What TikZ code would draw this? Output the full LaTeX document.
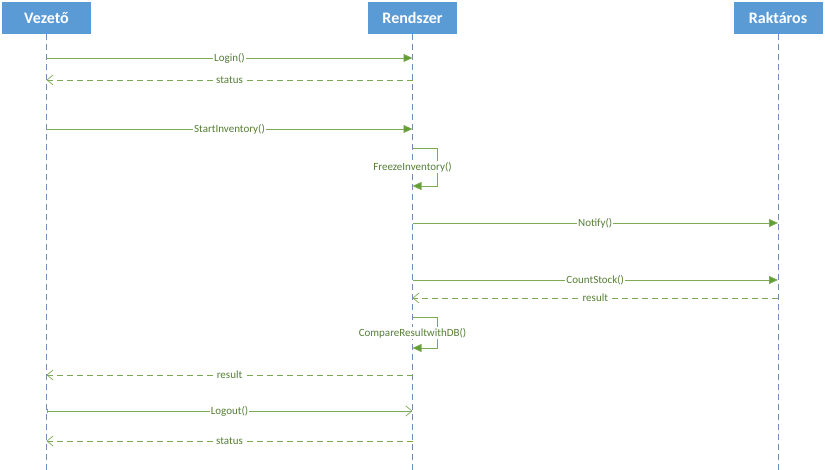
\documentclass[tikz,border=0pt]{standalone}
\usepackage{fontspec}
\setmainfont{Carlito}
\usetikzlibrary{arrows.meta}
\definecolor{hdr}{HTML}{5B9BD5}
\definecolor{life}{HTML}{6F8FB8}
\definecolor{msg}{HTML}{7DAA55}
\definecolor{tip}{HTML}{5E9E32}
\definecolor{lbl}{HTML}{557F36}
\tikzset{
  actor/.style={fill=hdr,draw=none,text=white,font=\fontsize{16}{18}\selectfont\bfseries,minimum width=89pt,minimum height=32pt,inner sep=0pt},
  lifeline/.style={draw=life,dash pattern=on 6pt off 4pt,line width=0.7pt},
  call/.style={draw=msg,line width=0.8pt,-{Triangle[length=9pt,width=8pt,fill=tip]}},
  ret/.style={draw=msg,line width=0.8pt,dash pattern=on 6pt off 4pt,-{Straight Barb[length=6pt,width=10pt,line width=0.7pt]}},
  opencall/.style={draw=msg,line width=0.8pt,{Bar[width=4pt,line width=0.6pt]}-{Straight Barb[length=6pt,width=10pt,line width=0.7pt]}},
  mlabel/.style={fill=white,text=lbl,font=\fontsize{11}{13}\selectfont,inner sep=1pt}
}
\begin{document}
\begin{tikzpicture}[x=1pt,y=-1pt]
\useasboundingbox (0,0) rectangle (825,470);
% actors
\node[actor] (A) at (46.5,18) {Vezető};
\node[actor] (B) at (412.5,18) {Rendszer};
\node[actor] (C) at (778,18) {Raktáros};
% lifeline ends
\coordinate (Ae) at (46.5,470);
\coordinate (Be) at (412.5,470);
\coordinate (Ce) at (778,470);
\draw[lifeline] (A.south) -- (Ae);
\draw[lifeline] (B.south) -- (Be);
\draw[lifeline] (C.south) -- (Ce);
% coordinates on lifelines
\foreach \n/\y in {1/58,2/80,3/129,4/148,5/186,6/223,7/280,8/298,9/317,10/348,11/375,12/411,13/441}{
  \coordinate (a\n) at (46.5,\y);
  \coordinate (b\n) at (412.5,\y);
  \coordinate (c\n) at (778,\y);
  \coordinate (s\n) at (437,\y);
}
% messages
\draw[call] (a1) -- node[mlabel]{Login()} (b1);
\draw[ret] (b2) -- node[mlabel]{status} (a2);
\draw[call] (a3) -- node[mlabel]{StartInventory()} (b3);
\draw[call] (b4) -- (s4) -- node[mlabel,pos=0.5,xshift=-24.5pt]{FreezeInventory()} (s5) -- (b5);
\draw[call] (b6) -- node[mlabel]{Notify()} (c6);
\draw[call] (b7) -- node[mlabel]{CountStock()} (c7);
\draw[ret] (c8) -- node[mlabel]{result} (b8);
\draw[call] (b9) -- (s9) -- node[mlabel,pos=0.52,xshift=-24.5pt]{CompareResultwithDB()} (s10) -- (b10);
\draw[ret] (b11) -- node[mlabel]{result} (a11);
\draw[opencall] (a12) -- node[mlabel]{Logout()} (b12);
\draw[ret] (b13) -- node[mlabel]{status} (a13);
\end{tikzpicture}
\end{document}
